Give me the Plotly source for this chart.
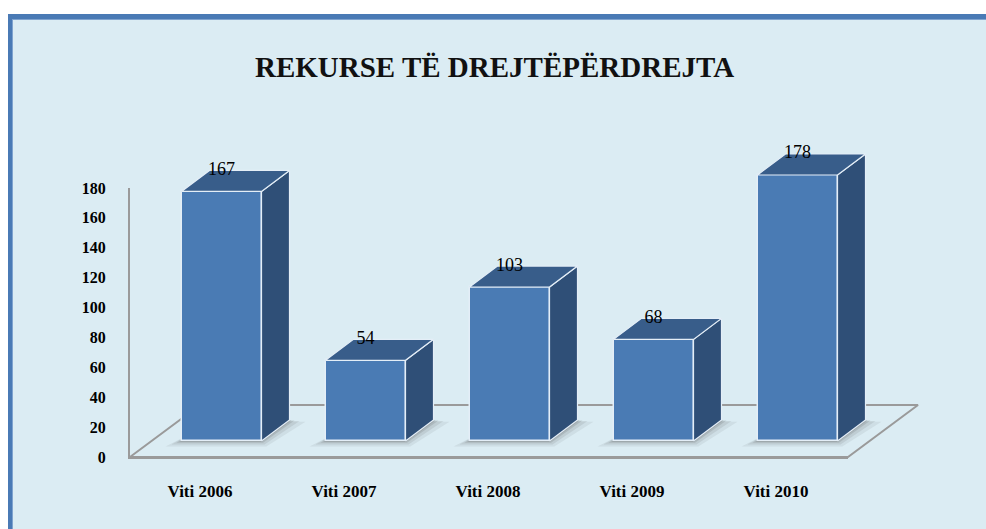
import plotly.graph_objects as go

# ---------------- data ----------------
categories = ["Viti 2006", "Viti 2007", "Viti 2008", "Viti 2009", "Viti 2010"]
values = [167, 54, 103, 68, 178]
y_tick_values = [0, 20, 40, 60, 80, 100, 120, 140, 160, 180]
title_text = "REKURSE TË DREJTËPËRDREJTA"

# ---------------- geometry (pixels, window coordinates) ----------------
W, H = 986, 529

STEP = 144.0                  # px per category
X_FRONT0 = 200.0              # px of first category on the axis (front) plane
Y_FRONT0 = 457.0              # px of value 0 on the axis plane
Y_TOP180 = 188.0
PX = (Y_FRONT0 - Y_TOP180) / 180.0  # px per value unit
AX_LEFT, AX_RIGHT = 130.0, 848.0
BAR_SHIFT = (21.5, 16.0)      # bars' front plane offset from the axis plane
BAR_DEPTH = (28.0, 21.0)      # bar depth (right, up)
FLOOR_DEPTH = (70.0, 52.0)    # floor depth (right, up)
BAR_W = 80.0 / STEP

FONT = "Liberation Serif"
C_BG = "#dbecf3"
C_BORDER = "#4a7ab5"
C_FRONT = "#4a7bb4"
C_SIDE = "#2f4f77"
C_TOP = "#385d8a"
C_EDGE = "#e4eef7"
C_FLOOR = "#9a9a9a"

idx = list(range(len(categories)))
fig = go.Figure()

# ---------- subplot x/y : visible axis plane ----------
fig.add_trace(go.Scatter(x=idx, y=[None] * len(idx), mode="markers",
                         xaxis="x", yaxis="y", hoverinfo="skip", showlegend=False))

# ---------- subplot x2/y2 : full-figure, axis plane (floor + shadows) ----------
fx = FLOOR_DEPTH[0] / STEP
fy = FLOOR_DEPTH[1] / PX
x_start = (AX_LEFT - X_FRONT0) / STEP
x_end = (AX_RIGHT - X_FRONT0) / STEP
floor_x = [x_start, x_end, x_end + fx, x_start + fx, x_start]
floor_y = [0, 0, fy, fy, 0]
fig.add_trace(go.Scatter(x=floor_x, y=floor_y, mode="lines",
                         line=dict(color=C_FLOOR, width=2),
                         xaxis="x2", yaxis="y2", hoverinfo="skip", showlegend=False))

dx = BAR_DEPTH[0] / STEP
dy = BAR_DEPTH[1] / PX
hw = BAR_W / 2
sdx = BAR_SHIFT[0] / STEP
sdy = BAR_SHIFT[1] / PX

# soft shadows, drawn in the floor subplot so they stay under the bars
for k, alpha in [(16, 0.08), (10, 0.11), (5, 0.15), (2, 0.18)]:
    sx, sy = [], []
    ex = k / STEP
    ey = (k * 0.35) / PX
    for i in idx:
        bx = i + sdx
        sx += [bx - hw - ex, bx + hw + ex * 0.3, bx + hw + dx + ex, bx - hw + dx + ex * 0.3,
               bx - hw - ex, None]
        sy += [sdy - ey, sdy - ey, sdy + dy - ey * 0.3, sdy + dy - ey * 0.3, sdy - ey, None]
    fig.add_trace(go.Scatter(x=sx, y=sy, mode="lines", fill="toself",
                             fillcolor=f"rgba(70,70,70,{alpha})", line=dict(width=0),
                             xaxis="x2", yaxis="y2", hoverinfo="skip", showlegend=False))

# ---------- subplot x3/y3 : full-figure, bar plane ----------
fig.add_trace(go.Bar(x=idx, y=values, width=BAR_W,
                     marker=dict(color=C_FRONT, line=dict(color=C_EDGE, width=1.5)),
                     xaxis="x3", yaxis="y3", hoverinfo="skip", showlegend=False))

side_x, side_y, top_x, top_y = [], [], [], []
for i, v in zip(idx, values):
    side_x += [i + hw, i + hw, i + hw + dx, i + hw + dx, i + hw, None]
    side_y += [0, v, v + dy, dy, 0, None]
    top_x += [i - hw, i + hw, i + hw + dx, i - hw + dx, i - hw, None]
    top_y += [v, v, v + dy, v + dy, v, None]
fig.add_trace(go.Scatter(x=side_x, y=side_y, mode="lines", fill="toself",
                         fillcolor=C_SIDE, line=dict(color=C_EDGE, width=1.2),
                         xaxis="x3", yaxis="y3", hoverinfo="skip", showlegend=False))
fig.add_trace(go.Scatter(x=top_x, y=top_y, mode="lines", fill="toself",
                         fillcolor=C_TOP, line=dict(color=C_EDGE, width=1.2),
                         xaxis="x3", yaxis="y3", hoverinfo="skip", showlegend=False))

fig.add_trace(go.Scatter(x=idx, y=[v + dy for v in values], mode="text",
                         text=[str(v) for v in values], textposition="middle center",
                         textfont=dict(family=FONT, size=18, color="#000000"),
                         cliponaxis=False,
                         xaxis="x3", yaxis="y3", hoverinfo="skip", showlegend=False))


def full_range_x(x0px):
    return [(-x0px) / STEP, (W - x0px) / STEP]


def full_range_y(y0px):
    return [-(H - y0px) / PX, y0px / PX]


hidden = dict(visible=False, showgrid=False, zeroline=False, fixedrange=True,
              automargin=False)

fig.update_layout(
    width=W, height=H,
    autosize=False,
    margin=dict(l=0, r=0, t=0, b=0, pad=0, autoexpand=False),
    paper_bgcolor="#ffffff",
    plot_bgcolor="rgba(0,0,0,0)",
    showlegend=False,
    bargap=0,
    xaxis=dict(domain=[AX_LEFT / W, AX_RIGHT / W],
               range=[x_start, x_end],
               anchor="y", automargin=False,
               tickmode="array", tickvals=idx, ticktext=categories,
               ticks="outside", ticklen=18, tickcolor="rgba(0,0,0,0)",
               tickfont=dict(family=FONT, size=17, color="#000000", weight="bold"),
               showline=True, linecolor=C_FLOOR, linewidth=2,
               showgrid=False, zeroline=False, fixedrange=True),
    yaxis=dict(domain=[(H - Y_FRONT0) / H, (H - Y_TOP180) / H],
               range=[0, 180],
               anchor="x", automargin=False,
               tickmode="array", tickvals=y_tick_values,
               ticks="outside", ticklen=19, tickcolor="rgba(0,0,0,0)",
               tickfont=dict(family=FONT, size=16, color="#000000", weight="bold"),
               showline=True, linecolor=C_FLOOR, linewidth=2,
               showgrid=False, zeroline=False, fixedrange=True),
    xaxis2=dict(domain=[0, 1], range=full_range_x(X_FRONT0), anchor="y2", **hidden),
    yaxis2=dict(domain=[0, 1], range=full_range_y(Y_FRONT0), anchor="x2", **hidden),
    xaxis3=dict(domain=[0, 1], range=full_range_x(X_FRONT0 + BAR_SHIFT[0]), anchor="y3", **hidden),
    yaxis3=dict(domain=[0, 1], range=full_range_y(Y_FRONT0 - BAR_SHIFT[1]), anchor="x3", **hidden),
    shapes=[
        dict(type="rect", xref="paper", yref="paper", layer="below",
             x0=8 / W, x1=1.02, y0=-0.02, y1=1 - 14 / H,
             fillcolor=C_BORDER, line=dict(width=0)),
        dict(type="rect", xref="paper", yref="paper", layer="below",
             x0=12 / W, x1=1.02, y0=-0.02, y1=1 - 19 / H,
             fillcolor="#7fa3cf", line=dict(width=0)),
        dict(type="rect", xref="paper", yref="paper", layer="below",
             x0=13 / W, x1=1.02, y0=-0.02, y1=1 - 20 / H,
             fillcolor=C_BG, line=dict(width=0)),
    ],
    annotations=[
        dict(text=title_text, xref="paper", yref="paper",
             x=494 / W, y=1 - 67 / H, xanchor="center", yanchor="middle",
             showarrow=False,
             font=dict(family=FONT, size=29, color="#111111", weight="bold")),
    ],
)

fig.write_html(
    "out.html",
    config={"displayModeBar": False, "responsive": False},
    post_script="document.body.style.margin='0';document.body.style.padding='0';"
                "document.body.style.overflow='hidden';",
)
